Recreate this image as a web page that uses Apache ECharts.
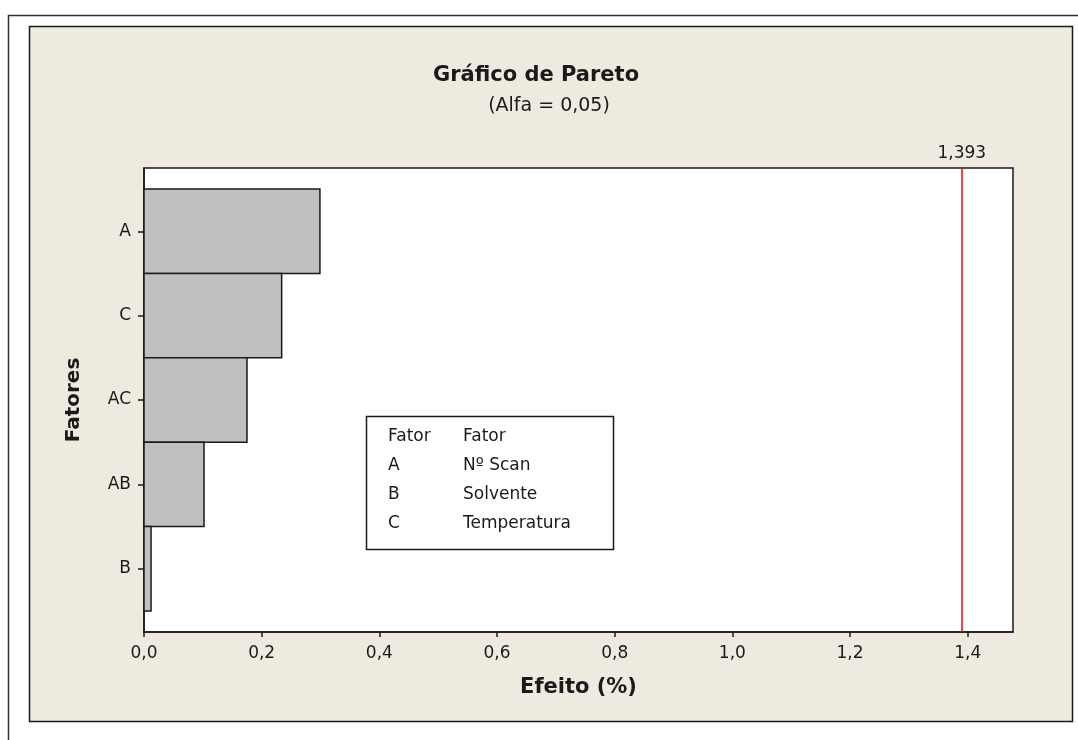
<!DOCTYPE html>
<html>
<head>
<meta charset="utf-8">
<script src="https://cdn.jsdelivr.net/npm/echarts@6/dist/echarts.min.js"></script>
<style>
  html, body { margin: 0; padding: 0; background: #fff; }
  #chart { width: 1078px; height: 740px; }
</style>
</head>
<body>
<div id="chart"></div>
<script>
// fatores (de cima para baixo) e efeitos
var fatores = ['A', 'C', 'AC', 'AB', 'B'];
var efeitos = [0.299, 0.234, 0.175, 0.102, 0.012];
// valor critico (alfa = 0,05)
var limite = 1.393;
// ticks do eixo x
var ticksX = [0, 0.2, 0.4, 0.6, 0.8, 1.0, 1.2, 1.4];
var posY = [1, 2, 3, 4, 5];
// legenda dos fatores
var legCodigo = ['Fator', 'A', 'B', 'C'];
var legNome = ['Fator', 'N\u00ba Scan', 'Solvente', 'Temperatura'];

var fonte = '"DejaVu Sans", Verdana, sans-serif';
var corTexto = '#1a1a1a';

function virgula(v, casas) {
  return v.toFixed(casas).replace('.', ',');
}

// caixa da legenda (texto)
var legendaGraf = [{
  type: 'rect',
  shape: { x: 366.5, y: 416.5, width: 247, height: 133 },
  style: { fill: '#fff', stroke: '#1a1a1a', lineWidth: 1.5 },
  z: 10
}];
legCodigo.forEach(function (t, i) {
  var yy = 437 + i * 28.7;
  legendaGraf.push({
    type: 'text', x: 388, y: yy, z: 11,
    style: { text: t, font: '17px ' + fonte, fill: corTexto, verticalAlign: 'middle' }
  });
  legendaGraf.push({
    type: 'text', x: 463, y: yy, z: 11,
    style: { text: legNome[i], font: '17px ' + fonte, fill: corTexto, verticalAlign: 'middle' }
  });
});

var chart = echarts.init(document.getElementById('chart'));
chart.setOption({
  backgroundColor: '#fff',
  animation: false,
  textStyle: { fontFamily: fonte },
  graphic: [
    // moldura externa
    { type: 'rect', shape: { x: 8.5, y: 15.5, width: 1100, height: 800 },
      style: { fill: '#fff', stroke: '#333', lineWidth: 1.5 }, z: -20 },
    // painel bege
    { type: 'rect', shape: { x: 29.5, y: 26.5, width: 1043, height: 695 },
      style: { fill: '#eeeae0', stroke: '#1a1a1a', lineWidth: 1.5 }, z: -10 },
    { type: 'text', x: 536, y: 76, z: 5,
      style: { text: 'Gr\u00e1fico de Pareto', font: 'bold 21px ' + fonte, fill: corTexto,
               align: 'center', verticalAlign: 'middle' } },
    { type: 'text', x: 549, y: 106, z: 5,
      style: { text: '(Alfa = 0,05)', font: '19px ' + fonte, fill: corTexto,
               align: 'center', verticalAlign: 'middle' } }
  ].concat(legendaGraf),
  grid: {
    left: 144, top: 168, width: 869, height: 464,
    show: true, backgroundColor: '#fff', borderColor: '#1a1a1a', borderWidth: 1.5
  },
  xAxis: {
    type: 'value', min: 0, max: 1.477,
    name: 'Efeito (%)', nameLocation: 'middle', nameGap: 45,
    nameTextStyle: { fontSize: 21, fontWeight: 'bold', color: corTexto },
    axisLine: { show: true, lineStyle: { color: '#1a1a1a', width: 1.5 } },
    axisTick: { show: true, length: 5, customValues: ticksX, lineStyle: { color: '#1a1a1a', width: 1.5 } },
    axisLabel: { customValues: ticksX, margin: 13, fontSize: 17, color: corTexto,
                 formatter: function (v) { return virgula(v, 1); } },
    splitLine: { show: false }
  },
  yAxis: {
    type: 'value', inverse: true, min: 0.25, max: 5.75,
    name: 'Fatores', nameLocation: 'middle', nameGap: 60, nameRotate: 90,
    nameTextStyle: { fontSize: 20, fontWeight: 'bold', color: corTexto },
    axisLine: { show: true, lineStyle: { color: '#1a1a1a', width: 1.5 } },
    axisTick: { show: true, length: 6, customValues: posY, lineStyle: { color: '#1a1a1a', width: 1.5 } },
    axisLabel: { customValues: posY, margin: 13, fontSize: 17, color: corTexto,
                 formatter: function (v) { return fatores[Math.round(v) - 1]; } },
    splitLine: { show: false }
  },
  series: [{
    type: 'custom',
    data: fatores.map(function (f, i) { return [efeitos[i], i + 1]; }),
    encode: { x: 0, y: 1 },
    renderItem: function (params, api) {
      var v = api.value(0), p = api.value(1);
      var a = api.coord([0, p - 0.5]);
      var b = api.coord([v, p + 0.5]);
      return {
        type: 'rect',
        shape: { x: a[0], y: Math.min(a[1], b[1]), width: b[0] - a[0], height: Math.abs(b[1] - a[1]) },
        style: { fill: '#c0c0c0', stroke: '#1a1a1a', lineWidth: 1.5 }
      };
    },
    markLine: {
      silent: true, symbol: 'none',
      lineStyle: { color: '#ff0000', width: 1.5, type: 'solid' },
      label: { show: true, position: 'start', fontSize: 17, color: corTexto, distance: 6,
               formatter: function () { return virgula(limite, 3); } },
      data: [{ xAxis: limite }]
    }
  }]
});
</script>
</body>
</html>
